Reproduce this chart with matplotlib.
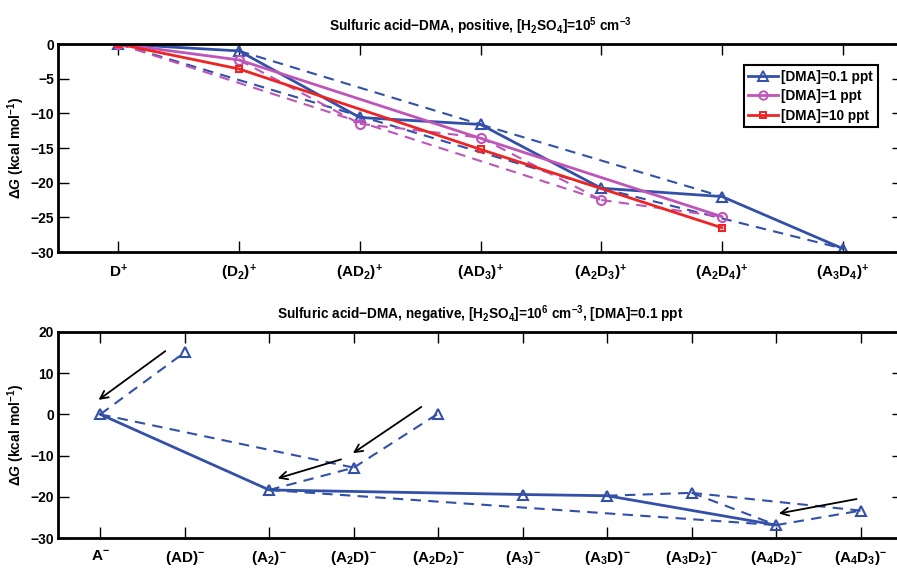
import numpy as np
import matplotlib
matplotlib.use('Agg')
import matplotlib.pyplot as plt
from matplotlib.lines import Line2D

plt.rcParams['font.family'] = ['Liberation Sans', 'DejaVu Sans']
plt.rcParams['font.weight'] = 'bold'
plt.rcParams['axes.labelweight'] = 'bold'
plt.rcParams['mathtext.fontset'] = 'custom'
plt.rcParams['mathtext.rm'] = 'Liberation Sans:bold'
plt.rcParams['mathtext.bf'] = 'Liberation Sans:bold'
plt.rcParams['mathtext.it'] = 'Liberation Sans:italic:bold'
plt.rcParams['mathtext.default'] = 'bf'

# 正离子部分
pos_labels = [r'$D^{\!+}$', r'$(D_2)^{\!+}$', r'$(AD_2)^{\!+}$', r'$(AD_3)^{\!+}$',
              r'$(A_2D_3)^{\!+}$', r'$(A_2D_4)^{\!+}$', r'$(A_3D_4)^{\!+}$']
dG_dma01 = [0, -1.0, -10.6, -11.6, -20.8, -22.0, -29.5]
dG_dma1 = [0, -2.3, -11.5, -13.5, -22.5, -24.9, np.nan]
dG_dma10 = [0, -3.6, np.nan, -15.2, np.nan, -26.5, np.nan]
# 主路径(实线)和次路径(虚线)，用类别序号表示
main_dma01 = [0, 1, 2, 3, 4, 5, 6]
main_dma1 = [0, 1, 5]
main_dma10 = [0, 1, 3, 5]
side_dma01 = [(1, 3), (3, 5), (0, 4), (4, 6)]
side_dma1 = [(1, 2), (2, 3), (3, 4), (4, 5), (0, 4)]
side_dma10 = []

# 负离子部分
neg_labels = [r'$A^{\!-}$', r'$(AD)^{\!-}$', r'$(A_2)^{\!-}$', r'$(A_2D)^{\!-}$',
              r'$(A_2D_2)^{\!-}$', r'$(A_3)^{\!-}$', r'$(A_3D)^{\!-}$',
              r'$(A_3D_2)^{\!-}$', r'$(A_4D_2)^{\!-}$', r'$(A_4D_3)^{\!-}$']
dG_neg = [0, 15.0, -18.3, -12.9, 0.2, -19.4, -19.7, -19.0, -26.8, -23.3]
main_neg = [0, 2, 5, 6, 8]
side_neg = [(0, 1), (0, 3), (2, 3), (3, 4), (2, 8), (6, 7), (7, 8), (7, 9), (8, 9)]
# 箭头 (起点x, 起点y, 终点x, 终点y)，x为类别序号(从1开始)
arrow_tail_x = [1.77, 4.80, 3.85, 9.95]
arrow_tail_y = [15.3, 1.8, -10.9, -20.5]
arrow_head_x = [0.98, 3.99, 3.10, 9.03]
arrow_head_y = [3.5, -9.4, -15.5, -24.0]

c_blue = '#3350a8'
c_mag = '#bf55b8'
c_red = '#ee2424'

fig = plt.figure(figsize=(8.97, 5.69), dpi=100)
ax1 = fig.add_axes([58 / 897, 1 - 252 / 569, 845 / 897, 208 / 569])
ax2 = fig.add_axes([58 / 897, 1 - 538.3 / 569, 845 / 897, 206.6 / 569])


def draw_series(ax, vals, main, side, color, marker, ms):
    x = np.arange(1, len(vals) + 1)
    v = np.array(vals, dtype=float)
    for a, b in side:
        ax.plot([x[a], x[b]], [v[a], v[b]], '--', color=color, lw=1.5, dashes=(5, 3.5))
    ax.plot(x[main], v[main], '-', color=color, lw=2)
    ax.plot(x, v, linestyle='none', marker=marker, ms=ms, mfc='none', mec=color, mew=1.5)


draw_series(ax1, dG_dma01, main_dma01, side_dma01, c_blue, '^', 7.5)
draw_series(ax1, dG_dma1, main_dma1, side_dma1, c_mag, 'o', 6.5)
draw_series(ax1, dG_dma10, main_dma10, side_dma10, c_red, 's', 5)

draw_series(ax2, dG_neg, main_neg, side_neg, c_blue, '^', 7.5)
for i in range(len(arrow_tail_x)):
    ax2.annotate('', xy=(arrow_head_x[i], arrow_head_y[i]),
                 xytext=(arrow_tail_x[i], arrow_tail_y[i]),
                 arrowprops=dict(arrowstyle='->', color='black', lw=1.3,
                                 shrinkA=0, shrinkB=0, mutation_scale=14))

handles = [Line2D([], [], color=c_blue, lw=2, marker='^', ms=6.5, mfc='none', mew=1.4),
           Line2D([], [], color=c_mag, lw=2, marker='o', ms=6, mfc='none', mew=1.4),
           Line2D([], [], color=c_red, lw=2, marker='s', ms=5, mfc='none', mew=1.4)]
leg = ax1.legend(handles, ['[DMA]=0.1 ppt', '[DMA]=1 ppt', '[DMA]=10 ppt'],
                 loc='upper right', bbox_to_anchor=(0.970, 0.899), borderaxespad=0,
                 fancybox=False, framealpha=1, edgecolor='black', fontsize=9.8,
                 handlelength=2.2, handletextpad=0.2, borderpad=0.35, labelspacing=0.4)
leg.get_frame().set_linewidth(1.5)

for ax, labels, ylim, yticks in [(ax1, pos_labels, (-30, 0), np.arange(-30, 1, 5)),
                                 (ax2, neg_labels, (-30, 20), np.arange(-30, 21, 10))]:
    ax.set_xlim(0.5, len(labels) + 0.5)
    ax.set_ylim(*ylim)
    ax.set_xticks(np.arange(1, len(labels) + 1))
    ax.set_xticklabels(labels, fontsize=11)
    ax.set_yticks(yticks)
    ax.tick_params(direction='in', length=8, width=1, top=True, right=True, labelsize=10)
    ax.tick_params(axis='x', pad=8, labelsize=11)
    ax.tick_params(axis='y', pad=3)
    for sp in ax.spines.values():
        sp.set_linewidth(2)
    ax.set_ylabel(r'$\Delta$$\mathit{G}$ (kcal mol$^{-1}$)', fontsize=10, labelpad=2)

ax1.set_title('Sulfuric acid\u2212DMA, positive, [H$_2$SO$_4$]=10$^5$ cm$^{-3}$',
              fontsize=9.8, fontweight='bold', pad=9.5)
ax2.set_title('Sulfuric acid\u2212DMA, negative, [H$_2$SO$_4$]=10$^6$ cm$^{-3}$, [DMA]=0.1 ppt',
              fontsize=9.8, fontweight='bold', pad=9.5)

fig.savefig('out.png', dpi=100)
